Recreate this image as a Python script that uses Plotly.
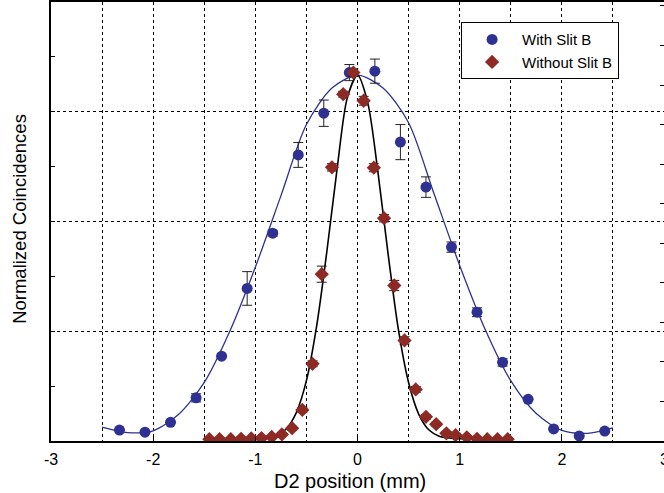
import plotly.graph_objects as go

# ---- data ----
with_x = [-2.33, -2.08, -1.83, -1.58, -1.33, -1.08, -0.83, -0.58, -0.33, -0.08,
          0.17, 0.42, 0.67, 0.92, 1.17, 1.42, 1.67, 1.92, 2.17, 2.42]
with_y = [0.030, 0.024, 0.051, 0.118, 0.232, 0.417, 0.568, 0.782, 0.896, 1.007,
          1.011, 0.817, 0.694, 0.530, 0.352, 0.215, 0.114, 0.033, 0.014, 0.027]
with_err = [0, 0, 0, 0.011, 0, 0.046, 0.008, 0.034, 0.036, 0.022,
            0.033, 0.048, 0.028, 0.014, 0.012, 0.010, 0, 0, 0, 0]

without_x = [-1.45, -1.35, -1.24, -1.14, -1.04, -0.94, -0.84, -0.74, -0.64, -0.54,
             -0.44, -0.35, -0.25, -0.14, -0.04, 0.06, 0.16, 0.26, 0.36, 0.46,
             0.57, 0.67, 0.77, 0.87, 0.96, 1.07, 1.17, 1.27, 1.37, 1.47]
without_y = [0.005, 0.005, 0.005, 0.006, 0.007, 0.008, 0.011, 0.018, 0.035, 0.085,
             0.211, 0.456, 0.748, 0.948, 1.007, 0.930, 0.747, 0.609, 0.425, 0.275,
             0.141, 0.066, 0.046, 0.021, 0.016, 0.010, 0.006, 0.005, 0.005, 0.005]
without_err = [0.004, 0.004, 0.004, 0.004, 0.004, 0.004, 0.004, 0.004, 0.005, 0.006,
               0.008, 0.022, 0.010, 0.008, 0.010, 0.012, 0.011, 0.010, 0.014, 0.010,
               0.008, 0.006, 0.005, 0.005, 0.005, 0.004, 0.004, 0.004, 0.004, 0.004]

fit_wide_x = [-2.5, -2.25, -2.0, -1.75, -1.5, -1.25, -1.0, -0.75, -0.5, -0.25, 0.0,
              0.25, 0.5, 0.75, 1.0, 1.25, 1.5, 1.75, 2.0, 2.25, 2.5]
fit_wide_y = [0.038, 0.023, 0.028, 0.073, 0.160, 0.300, 0.475, 0.670, 0.865, 0.965, 1.0,
              0.965, 0.870, 0.675, 0.480, 0.305, 0.165, 0.075, 0.029, 0.021, 0.036]

fit_narrow_x = [-1.43, -1.2, -1.0, -0.9, -0.8, -0.7, -0.6, -0.5, -0.4, -0.3, -0.2, -0.1, 0.0,
                0.1, 0.2, 0.3, 0.4, 0.5, 0.6, 0.7, 0.8, 0.9, 1.0, 1.2, 1.48]
fit_narrow_y = [0.005, 0.005, 0.006, 0.008, 0.013, 0.032, 0.077, 0.165, 0.314, 0.518, 0.743, 0.938, 1.0,
                0.925, 0.735, 0.510, 0.305, 0.160, 0.073, 0.030, 0.013, 0.008, 0.006, 0.005, 0.005]

x_ticks = [-3, -2, -1, 0, 1, 2, 3]
x_tick_text = ["-3", "-2", "-1", "0", "1", "2", "3"]
x_title = "D2 position (mm)"
y_title = "Normalized Coincidences"

BLUE = "#2E3192"
RED = "#8E2A24"
FONT = "Liberation Sans, Arial, sans-serif"
TICK_SIZE = 16

fig = go.Figure()

fig.add_trace(go.Scatter(x=fit_wide_x, y=fit_wide_y, mode="lines",
                         line=dict(color=BLUE, width=1.3, shape="spline", smoothing=0.8),
                         showlegend=False, hoverinfo="skip"))
fig.add_trace(go.Scatter(x=fit_narrow_x, y=fit_narrow_y, mode="lines",
                         line=dict(color="black", width=1.6, shape="spline", smoothing=0.8),
                         showlegend=False, hoverinfo="skip"))

fig.add_trace(go.Scatter(x=with_x, y=with_y, mode="markers", name="With Slit B",
                         marker=dict(symbol="circle", size=11, color=BLUE),
                         error_y=dict(type="data", array=with_err, color="#222222",
                                      thickness=1, width=5)))
fig.add_trace(go.Scatter(x=without_x, y=without_y, mode="markers", name="Without Slit B",
                         marker=dict(symbol="diamond", size=11, color=RED),
                         error_y=dict(type="data", array=without_err, color="#222222",
                                      thickness=1, width=5)))

# invisible trace on secondary axis for right-hand ticks
fig.add_trace(go.Scatter(x=[0], y=[0], yaxis="y2", mode="markers",
                         marker=dict(opacity=0), showlegend=False, hoverinfo="skip"))

# the last tick label sits on the page edge (half cut off, as in the reference)
fig.add_annotation(x=x_ticks[-1], xref="x", y=0, yref="paper", yanchor="top",
                   yshift=-8, text=x_tick_text[-1], showarrow=False,
                   font=dict(size=TICK_SIZE, family=FONT, color="black"))
# axis titles
fig.add_annotation(x=0.488, xref="paper", y=0, yref="paper", yanchor="middle",
                   yshift=-40, text=x_title, showarrow=False,
                   font=dict(size=20, family=FONT, color="black"))
fig.add_annotation(x=0, xref="paper", y=0.506, yref="paper", xanchor="center",
                   yanchor="middle", xshift=-31, textangle=-90, text=y_title,
                   showarrow=False, font=dict(size=18.5, family=FONT, color="black"))

fig.update_layout(
    width=664, height=493,
    margin=dict(l=51, r=0, t=2, b=52, autoexpand=False),
    paper_bgcolor="white", plot_bgcolor="white",
    font=dict(family=FONT, color="black", size=16),
    xaxis=dict(range=[-3, 3], tickvals=x_ticks, ticktext=x_tick_text,
               showgrid=True, gridcolor="black", griddash="dot", gridwidth=1,
               minor=dict(dtick=0.5, tick0=-3, showgrid=True, gridcolor="black",
                          griddash="dot", gridwidth=1),
               showline=True, linecolor="black", linewidth=2, mirror=True,
               ticks="inside", ticklen=4, tickcolor="black", ticklabelstandoff=3,
               zeroline=False, tickfont=dict(size=TICK_SIZE), automargin=False),
    yaxis=dict(range=[0, 1.2], dtick=0.3, tick0=0, showticklabels=False,
               showgrid=True, gridcolor="black", griddash="dot", gridwidth=1,
               minor=dict(dtick=0.15, tick0=0, ticks="inside", ticklen=4,
                          tickcolor="black", showgrid=False),
               ticks="inside", ticklen=4, tickcolor="black", automargin=False,
               showline=True, linecolor="black", linewidth=2, zeroline=False),
    yaxis2=dict(range=[0, 11.1], dtick=1, tick0=0, overlaying="y", side="right",
                showticklabels=False, showgrid=False, zeroline=False, automargin=False,
                ticks="inside", ticklen=4, tickcolor="black", showline=False),
    legend=dict(x=0.669, y=0.954, xanchor="left", yanchor="top",
                bgcolor="white", bordercolor="black", borderwidth=1,
                font=dict(size=15), itemwidth=50, tracegroupgap=0),
)

fig.write_html("out.html", config={"displayModeBar": False},
               post_script="document.body.style.margin='0px';")
